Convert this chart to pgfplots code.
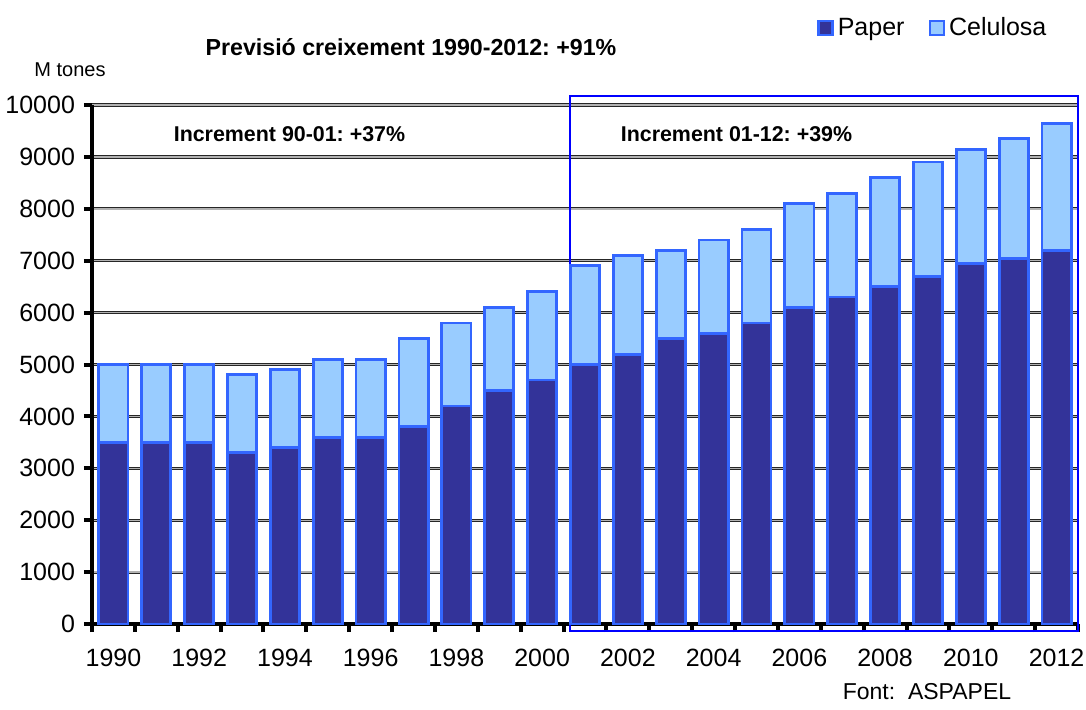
\documentclass[border=0pt]{standalone}
\usepackage{fontspec}
\setmainfont{Liberation Sans}
\usepackage{pgfplots}
\usepackage{pgfplotstable}
\pgfplotsset{compat=1.18}
\frenchspacing

\definecolor{paperc}{HTML}{333399}
\definecolor{celc}{HTML}{99CCFF}
\definecolor{edgec}{HTML}{3366FF}

% year index (0 = 1990), paper and pulp production
\pgfplotstableread{
idx paper celulosa
0  3500 1500
1  3500 1500
2  3500 1500
3  3300 1500
4  3400 1500
5  3600 1500
6  3600 1500
7  3800 1700
8  4200 1600
9  4500 1600
10 4700 1700
11 5000 1900
12 5200 1900
13 5500 1700
14 5600 1800
15 5800 1800
16 6100 2000
17 6300 2000
18 6500 2100
19 6700 2200
20 6950 2200
21 7050 2300
22 7200 2450
}\prod

\begin{document}
\begin{tikzpicture}
\useasboundingbox (-46pt,-42.5pt) rectangle (497pt,312pt);
\begin{axis}[
  at={(0,0)}, anchor=south west,
  scale only axis,
  width=493pt, height=259.5pt,
  ybar stacked, bar width=0.68,
  xmin=-0.5, xmax=22.5,
  ymin=0, ymax=10000,
  clip=false,
  axis x line*=bottom, axis y line*=left,
  axis line style={line width=2pt, -},
  xtick={0,2,...,22},
  xticklabels={1990,1992,1994,1996,1998,2000,2002,2004,2006,2008,2010,2012},
  minor xtick={-0.5,0.5,...,22.5},
  ytick={0,1000,...,10000},
  scaled y ticks=false,
  /pgf/number format/.cd, use comma=false, 1000 sep={}, assume math mode=true,
  /pgfplots/.cd,
  tick align=outside,
  major tick length=4pt, minor tick length=4pt,
  tick style={black, line width=2pt},
  xtick style={draw=none},
  minor x tick style={draw=black, line width=2pt},
  ymajorgrids,
  major grid style={draw=black!85, line width=0.45pt, double=gray!60, double distance=0.7pt},
  ticklabel style={font=\fontsize{12.5}{14}\selectfont},
  xticklabel style={yshift=-5pt},
  yticklabel style={xshift=-1pt},
  legend columns=2,
  legend style={at={(0.729,1.148)}, anchor=west, draw=none, fill=none,
    font=\fontsize{12.5}{14}\selectfont,
    /tikz/every even column/.append style={column sep=10pt}},
  legend image code/.code={\draw[#1, line width=1.3pt] (0pt,-3.5pt) rectangle (7pt,3.5pt);},
]
\addplot[fill=paperc, draw=edgec, line width=1.4pt] table[x=idx, y=paper] {\prod};
\addplot[fill=celc, draw=edgec, line width=1.4pt] table[x=idx, y=celulosa] {\prod};
\legend{Paper, Celulosa}

% frame around the 2001-2012 forecast
\draw[blue, line width=1pt] (axis cs:10.64,-140) rectangle (axis cs:22.5,10165);
\end{axis}
\node[font=\fontsize{10.7}{13}\selectfont\bfseries] at (98.75pt,245pt) {Increment 90-01: +37\%};
\node[font=\fontsize{10.7}{13}\selectfont\bfseries] at (322.25pt,245pt) {Increment 01-12: +39\%};
\node[font=\fontsize{11.6}{14}\selectfont\bfseries] at (159.5pt,288.5pt) {Previsió creixement 1990-2012: +91\%};
\node[font=\fontsize{10}{12}\selectfont] at (-11pt,277pt) {M tones};
\node[font=\fontsize{11.5}{14}\selectfont] at (417.5pt,-34pt) {Font:\ \ ASPAPEL};
\end{tikzpicture}
\end{document}
